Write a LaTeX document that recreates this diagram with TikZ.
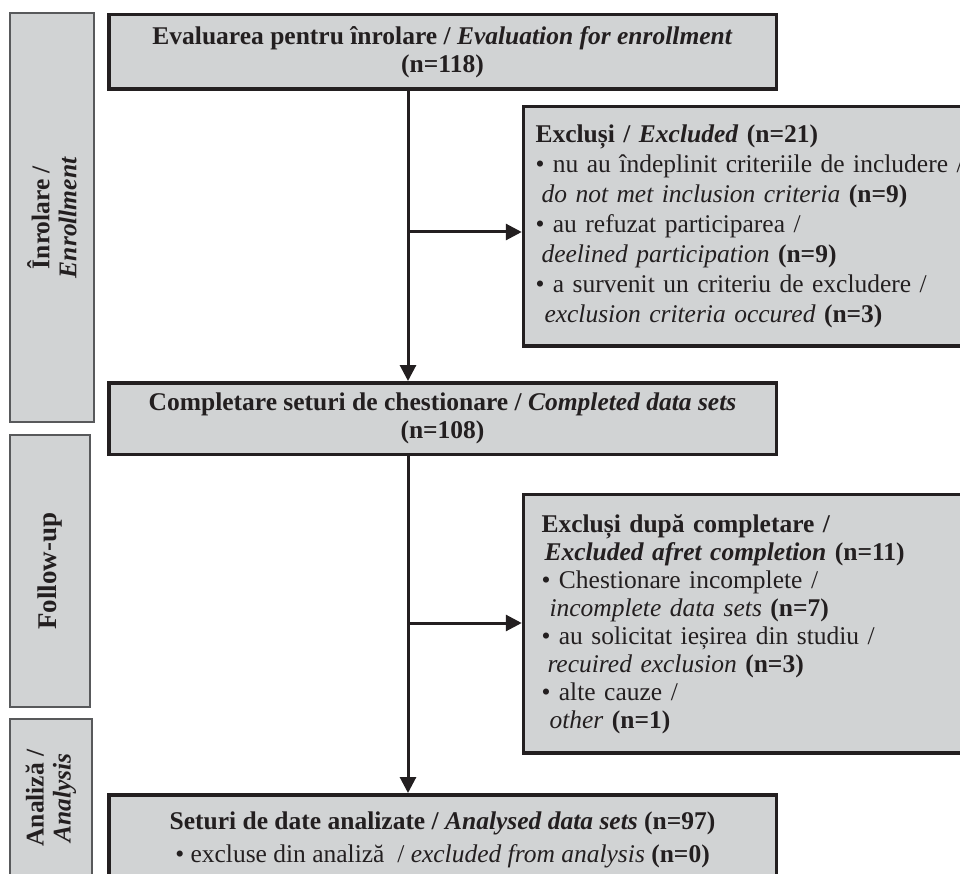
\documentclass[tikz,border=0pt]{standalone}
\usepackage{fontspec}
\setmainfont{Liberation Serif}
\usetikzlibrary{arrows.meta}
\definecolor{boxfill}{HTML}{D1D3D4}
\definecolor{ink}{HTML}{231F20}
\definecolor{sideline}{HTML}{58595B}
\begin{document}
\begin{tikzpicture}[x=1pt,y=1pt,
  mainbox/.style={draw=ink, line width=3.5pt, fill=boxfill, inner sep=0pt, text=ink},
  sidebox/.style={draw=sideline, line width=1.5pt, fill=boxfill, inner sep=0pt, text=ink,
    font=\fontsize{25.5}{27}\selectfont\bfseries},
  flow/.style={draw=ink, line width=3pt, -{Triangle[length=16pt,width=16pt]}},
  headtxt/.style={font=\fontsize{25.5}{28}\selectfont\bfseries, align=center},
  listtxt/.style={font=\fontsize{25.5}{30}\selectfont, align=left, anchor=north west}
]
\useasboundingbox (0,0) rectangle (960,-874);
\fill[white] (0,0) rectangle (960,-874);

% side boxes
\node[sidebox, rotate=90, minimum width=409pt, minimum height=84pt, align=center] (side1) at (52,-217.5)
  {Înrolare /\\\textit{Enrollment}};
\node[sidebox, rotate=90, minimum width=272pt, minimum height=80pt, align=center] (side2) at (50,-571)
  {\fontsize{27}{27}\selectfont Follow-up};
\node[sidebox, rotate=90, minimum width=158pt, minimum height=82pt, align=center] (side3) at (51,-798)
  {Analiză /\\\textit{Analysis}};

% main boxes
\node[mainbox, headtxt, minimum width=667.5pt, minimum height=74.5pt] (eval) at (442.5,-52)
  {Evaluarea pentru înrolare / \textit{Evaluation for enrollment}\\(n=118)};
\node[mainbox, headtxt, minimum width=667.5pt, minimum height=71.5pt] (compl) at (442.5,-418.5)
  {Completare seturi de chestionare / \textit{Completed data sets}\\(n=108)};
\node[mainbox, font=\fontsize{25.5}{33}\selectfont, align=center, minimum width=667.5pt, minimum height=90pt] (final) at (442.5,-839.75)
  {\textbf{Seturi de date analizate / \textit{Analysed data sets} (n=97)}\\
   • excluse din analiză\ \ / \textit{excluded from analysis} \textbf{(n=0)}};

% excluded boxes
\node[mainbox, listtxt, text width=430pt, inner xsep=12pt, minimum height=239.5pt] (excl1) at (521.75,-104.75)
  {\textbf{Excluși / \textit{Excluded} (n=21)}\\
   • nu au îndeplinit criteriile de includere /\\
   \hspace*{6pt}\textit{do not met inclusion criteria} \textbf{(n=9)}\\
   • au refuzat participarea /\\
   \hspace*{6pt}\textit{deelined participation} \textbf{(n=9)}\\
   • a survenit un criteriu de excludere /\\
   \hspace*{9pt}\textit{exclusion criteria occured} \textbf{(n=3)}};
\node[mainbox, listtxt, font=\fontsize{25.5}{28}\selectfont, text width=420pt, inner xsep=18pt, minimum height=258.5pt] (excl2) at (521.75,-492.75)
  {\textbf{Excluși după completare /}\\
   \hspace*{3pt}\textbf{\textit{Excluded afret completion} (n=11)}\\
   • Chestionare incomplete /\\
   \hspace*{8pt}\textit{incomplete data sets} \textbf{(n=7)}\\
   • au solicitat ieșirea din studiu /\\
   \hspace*{6pt}\textit{recuired exclusion} \textbf{(n=3)}\\
   • alte cauze /\\
   \hspace*{8pt}\textit{other} \textbf{(n=1)}};

% connectors
\coordinate (vx) at (408,0);
\coordinate (a1) at (0,-232);
\coordinate (a2) at (0,-623);
\draw[flow] (eval.south -| vx) -- (compl.north -| vx);
\draw[flow] (vx |- a1) -- (excl1.west |- a1);
\draw[flow] (compl.south -| vx) -- (final.north -| vx);
\draw[flow] (vx |- a2) -- (excl2.west |- a2);
\end{tikzpicture}
\end{document}
